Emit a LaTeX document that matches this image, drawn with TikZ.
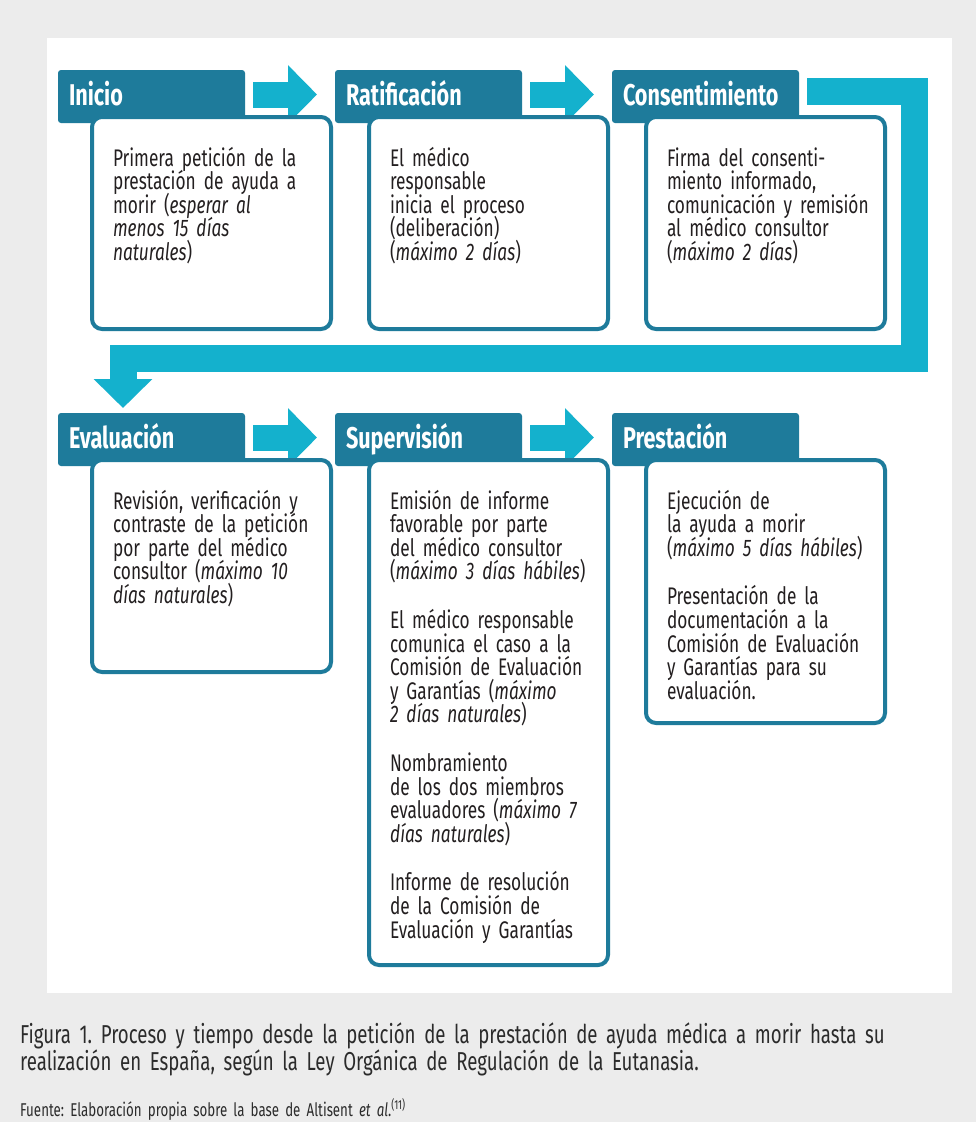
\documentclass[tikz,border=0pt]{standalone}
\usepackage{fontspec}
\setmainfont{Fira Sans}[FakeStretch=0.72]
\usetikzlibrary{positioning,arrows.meta}
\frenchspacing

\definecolor{tabblue}{HTML}{1E7B9B}
\definecolor{flowcyan}{HTML}{14B1CD}
\definecolor{pagegray}{HTML}{ECECEC}
\definecolor{ink}{HTML}{231F20}
\definecolor{capink}{HTML}{2B2B2B}

\begin{document}
\begin{tikzpicture}
    [ x = 1pt, y = -1pt
    , tab/.style =
      { fill=tabblue, rounded corners=3pt, outer sep=0pt, anchor=north west
      , minimum width=187pt, minimum height=53pt
      , text width=165pt, inner xsep=11pt, inner ysep=11pt
      , text height=24pt, text depth=7pt, align=left
      , text=white, font=\bfseries\fontsize{30}{30}\selectfont }
    , box/.style =
      { draw=tabblue, fill=white, line width=4pt, rounded corners=10pt
      , text width=197pt, inner xsep=21pt, inner ysep=0pt
      , text height=49pt, align=left, text=ink
      , font={\fontsize{24}{23.6}\selectfont\setlength{\lineskiplimit}{-30pt}\hyphenpenalty=10000} }
    , flow/.style =
      { draw=flowcyan, line width=26pt
      , -{Triangle[length=29pt,width=57pt]} }
    , caption/.style =
      { anchor=base west, inner sep=0pt, text width=930pt, align=left
      , text=capink }
    ]
    \useasboundingbox [fill=pagegray] (0,0) rectangle (976,1122);
    \fill [white] (47,38) rectangle (952,993);

    % the six steps
    \node [tab] (inicio) at (58,70) {Inicio};
    \node [tab] (ratif) [right=90pt of inicio] {Ratificación};
    \node [tab] (consent) [right=90pt of ratif] {Consentimiento};
    \node [tab] (eval) at (58,413) {Evaluación};
    \node [tab] (superv) [right=90pt of eval] {Supervisión};
    \node [tab] (prest) [right=90pt of superv] {Prestación};

    \draw [flow] ([xshift=8pt,yshift=2pt]inicio.east) -- ([xshift=-18pt,yshift=2pt]ratif.west);
    \draw [flow] ([xshift=8pt,yshift=2pt]ratif.east) -- ([xshift=-18pt,yshift=2pt]consent.west);
    \draw [flow] ([xshift=8pt,yshift=2pt]eval.east) -- ([xshift=-18pt,yshift=2pt]superv.west);
    \draw [flow] ([xshift=8pt,yshift=2pt]superv.east) -- ([xshift=-18pt,yshift=2pt]prest.west);
    \draw [flow, line width=27pt, line join=miter]
      ([xshift=8pt,yshift=5pt]consent.east) -- ++(107,0) -- ++(0,267)
      -| ([xshift=65pt,yshift=5pt]eval.north west);

    \node [box, below=-8pt of inicio.south west, anchor=north west, xshift=32pt, text depth=163pt] (inicioTxt)
      {Primera petición de la\\ prestación de ayuda a\\ morir (\emph{esperar al}\\ \emph{menos 15 días}\\ \emph{naturales})};
    \node [box, below=-8pt of ratif.south west, anchor=north west, xshift=32pt, text depth=163pt] (ratifTxt)
      {El médico\\ responsable\\ inicia el proceso\\ (deliberación)\\ (\emph{máximo 2 días})};
    \node [box, below=-8pt of consent.south west, anchor=north west, xshift=32pt, text depth=163pt] (consentTxt)
      {Firma del consenti-\\ miento informado,\\ comunicación~y~remisión\\ al médico consultor\\ (\emph{máximo 2 días})};
    \node [box, below=-8pt of eval.south west, anchor=north west, xshift=32pt, text depth=163pt] (evalTxt)
      {Revisión, verificación~y\\ contraste~de~la~petición\\ por parte del médico\\ consultor (\emph{máximo 10}\\ \emph{días naturales})};
    \node [box, below=-8pt of superv.south west, anchor=north west, xshift=32pt, text depth=456pt] (supervTxt)
      {Emisión de informe\\ favorable por parte\\ del médico consultor\\ (\emph{máximo 3 días hábiles})\\[25pt]
       El médico responsable\\ comunica el caso a la\\ Comisión~de~Evaluación\\ y Garantías (\emph{máximo}\\ \emph{2 días naturales})\\[25pt]
       Nombramiento\\ de los dos miembros\\ evaluadores (\emph{máximo~7}\\ \emph{días naturales})\\[25pt]
       Informe de resolución\\ de la Comisión de\\ Evaluación~y~Garantías};
    \node [box, below=-8pt of prest.south west, anchor=north west, xshift=32pt, text depth=214pt] (prestTxt)
      {Ejecución de\\ la ayuda a morir\\ (\emph{máximo 5 días hábiles})\\[25pt]
       Presentación de la\\ documentación a la\\ Comisión~de~Evaluación\\ y Garantías para su\\ evaluación.};

    % caption
    \node [caption, font=\fontsize{25.9}{25}\selectfont] (figCap) at (20,1043)
      {Figura 1. Proceso y tiempo desde la petición de la prestación de ayuda médica a morir hasta su\\
       realización en España, según la Ley Orgánica de Regulación de la Eutanasia.};
    \node [caption, font=\fontsize{18.5}{20}\selectfont] (srcCap) at (20,1116)
      {Fuente: Elaboración propia sobre la base de Altisent \emph{et al}.\textsuperscript{(11)}};
\end{tikzpicture}
\end{document}
